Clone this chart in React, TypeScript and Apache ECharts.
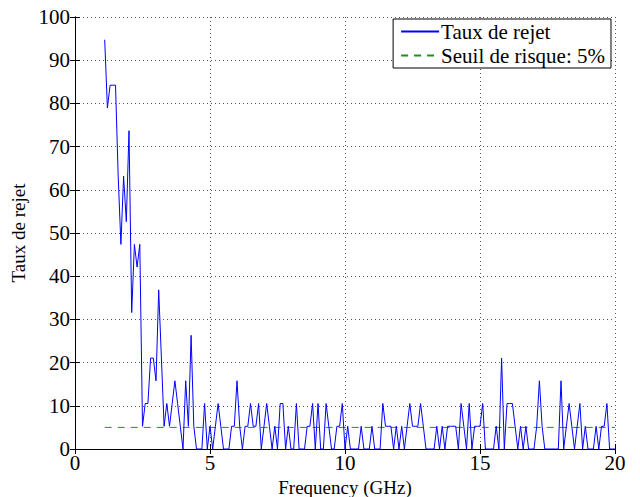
import React, { useEffect, useRef } from "react";
import * as echarts from "echarts";

// Sampling grid of the measurement: 1.1 GHz to 20.0 GHz, step 0.1 GHz
const freqStart = 1.1;
const freqStep = 0.1;

// Rejection rate (%), one value per frequency
const rejectRate: number[] = [
  94.74, 78.95, 84.21, 84.21, 84.21, 63.16, 47.37, 63.16, 52.63, 73.68,
  31.58, 47.37, 42.11, 47.37, 5.26, 10.53, 10.53, 21.05, 21.05, 15.79,
  36.84, 21.05, 5.26, 10.53, 5.26, 10.53, 15.79, 10.53, 5.26, 0,
  15.79, 5.26, 26.32, 5.26, 0, 0, 0, 10.53, 0, 5.26,
  0, 5.26, 10.53, 5.26, 0, 0, 0, 5.26, 5.26, 15.79,
  5.26, 0, 5.26, 5.26, 10.53, 5.26, 5.26, 10.53, 0, 5.26,
  10.53, 5.26, 0, 5.26, 0, 10.53, 10.53, 0, 5.26, 0,
  0, 10.53, 0, 0, 0, 5.26, 5.26, 10.53, 0, 10.53,
  0, 0, 10.53, 5.26, 0, 0, 5.26, 5.26, 10.53, 0,
  5.26, 0, 0, 0, 0, 5.26, 0, 0, 0, 5.26,
  0, 0, 0, 10.53, 5.26, 5.26, 5.26, 0, 5.26, 0,
  5.26, 0, 5.26, 10.53, 5.26, 5.26, 5.26, 10.53, 5.26, 0,
  0, 0, 0, 5.26, 0, 5.26, 0, 5.26, 5.26, 5.26,
  5.26, 0, 10.53, 5.26, 0, 10.53, 0, 5.26, 5.26, 5.26,
  10.53, 0, 0, 0, 0, 5.26, 0, 21.05, 0, 10.53,
  10.53, 10.53, 5.26, 0, 5.26, 0, 5.26, 0, 0, 0,
  5.26, 15.79, 5.26, 0, 0, 0, 0, 0, 0, 15.79,
  0, 5.26, 10.53, 5.26, 0, 5.26, 10.53, 0, 5.26, 0,
  0, 0, 5.26, 0, 5.26, 5.26, 10.53, 0, 0, 0,
];

// Risk threshold (%)
const thresholdValue = 5;
const thresholdRange: number[] = [1.1, 20];

const xTicks = { min: 0, max: 20, interval: 5 };
const yTicks = { min: 0, max: 100, interval: 10 };

const seriesNames = ["Taux de rejet", "Seuil de risque: 5%"];
const xAxisTitle = "Frequency (GHz)";
const yAxisTitle = "Taux de rejet";

const FONT = "Liberation Serif";

export default function App() {
  const ref = useRef<HTMLDivElement>(null);

  useEffect(() => {
    if (!ref.current) return;
    const chart = echarts.init(ref.current, undefined, { renderer: "svg" });

    const rateData = rejectRate.map((v, i) => [
      +(freqStart + freqStep * i).toFixed(1),
      v,
    ]);
    const thresholdData = thresholdRange.map((x) => [x, thresholdValue]);

    const axisLine = { show: true, lineStyle: { color: "#000", width: 1 } };
    const axisTick = {
      show: true,
      inside: true,
      length: 5,
      lineStyle: { color: "#000", width: 1 },
    };
    const splitLine = {
      show: true,
      lineStyle: { color: "#555", width: 1, type: [1, 3] as any },
    };

    chart.setOption({
      animation: false,
      backgroundColor: "#fff",
      textStyle: { fontFamily: FONT },
      grid: {
        left: 75,
        right: 25,
        top: 17,
        bottom: 48,
        containLabel: false,
        outerBoundsMode: "none",
      },
      legend: {
        show: true,
        orient: "vertical",
        right: 29,
        top: 19,
        backgroundColor: "#fff",
        borderColor: "#000",
        borderWidth: 1,
        borderRadius: 0,
        padding: [2, 6, 2, 7],
        itemGap: 3,
        itemWidth: 38,
        itemHeight: 2,
        itemStyle: { color: "rgba(0,0,0,0)", borderWidth: 0 },
        textStyle: {
          color: "#000",
          fontFamily: FONT,
          fontSize: 21,
          lineHeight: 20,
          padding: [0, 0, 0, -3],
        },
        data: seriesNames.map((n) => ({ name: n })),
      },
      xAxis: [
        {
          type: "value",
          ...xTicks,
          position: "bottom",
          axisLine,
          axisTick,
          splitLine,
          axisLabel: { color: "#000", fontFamily: FONT, fontSize: 21, margin: 3 },
          name: xAxisTitle,
          nameLocation: "middle",
          nameGap: 25,
          nameTextStyle: { color: "#000", fontFamily: FONT, fontSize: 19 },
        },
        {
          type: "value",
          ...xTicks,
          position: "top",
          axisLine,
          axisTick,
          splitLine: { show: false },
          axisLabel: { show: false },
        },
      ],
      yAxis: [
        {
          type: "value",
          ...yTicks,
          position: "left",
          axisLine,
          axisTick,
          splitLine,
          axisLabel: { color: "#000", fontFamily: FONT, fontSize: 21, margin: 5 },
          name: yAxisTitle,
          nameLocation: "middle",
          nameGap: 41,
          nameRotate: 90,
          nameTextStyle: { color: "#000", fontFamily: FONT, fontSize: 19 },
        },
        {
          type: "value",
          ...yTicks,
          position: "right",
          axisLine,
          axisTick,
          splitLine: { show: false },
          axisLabel: { show: false },
        },
      ],
      series: [
        {
          name: seriesNames[0],
          type: "line",
          data: rateData,
          symbol: "none",
          lineStyle: { color: "#0000ff", width: 1 },
          itemStyle: { color: "#0000ff" },
          z: 3,
        },
        {
          name: seriesNames[1],
          type: "line",
          data: thresholdData,
          symbol: "none",
          lineStyle: { color: "#1f8f1f", width: 1, type: [7, 6] as any },
          itemStyle: { color: "#1f8f1f" },
          z: 2,
        },
      ],
    });

    return () => chart.dispose();
  }, []);

  return (
    <div
      ref={ref}
      style={{ position: "fixed", left: 0, top: 0, width: 640, height: 497 }}
    />
  );
}
